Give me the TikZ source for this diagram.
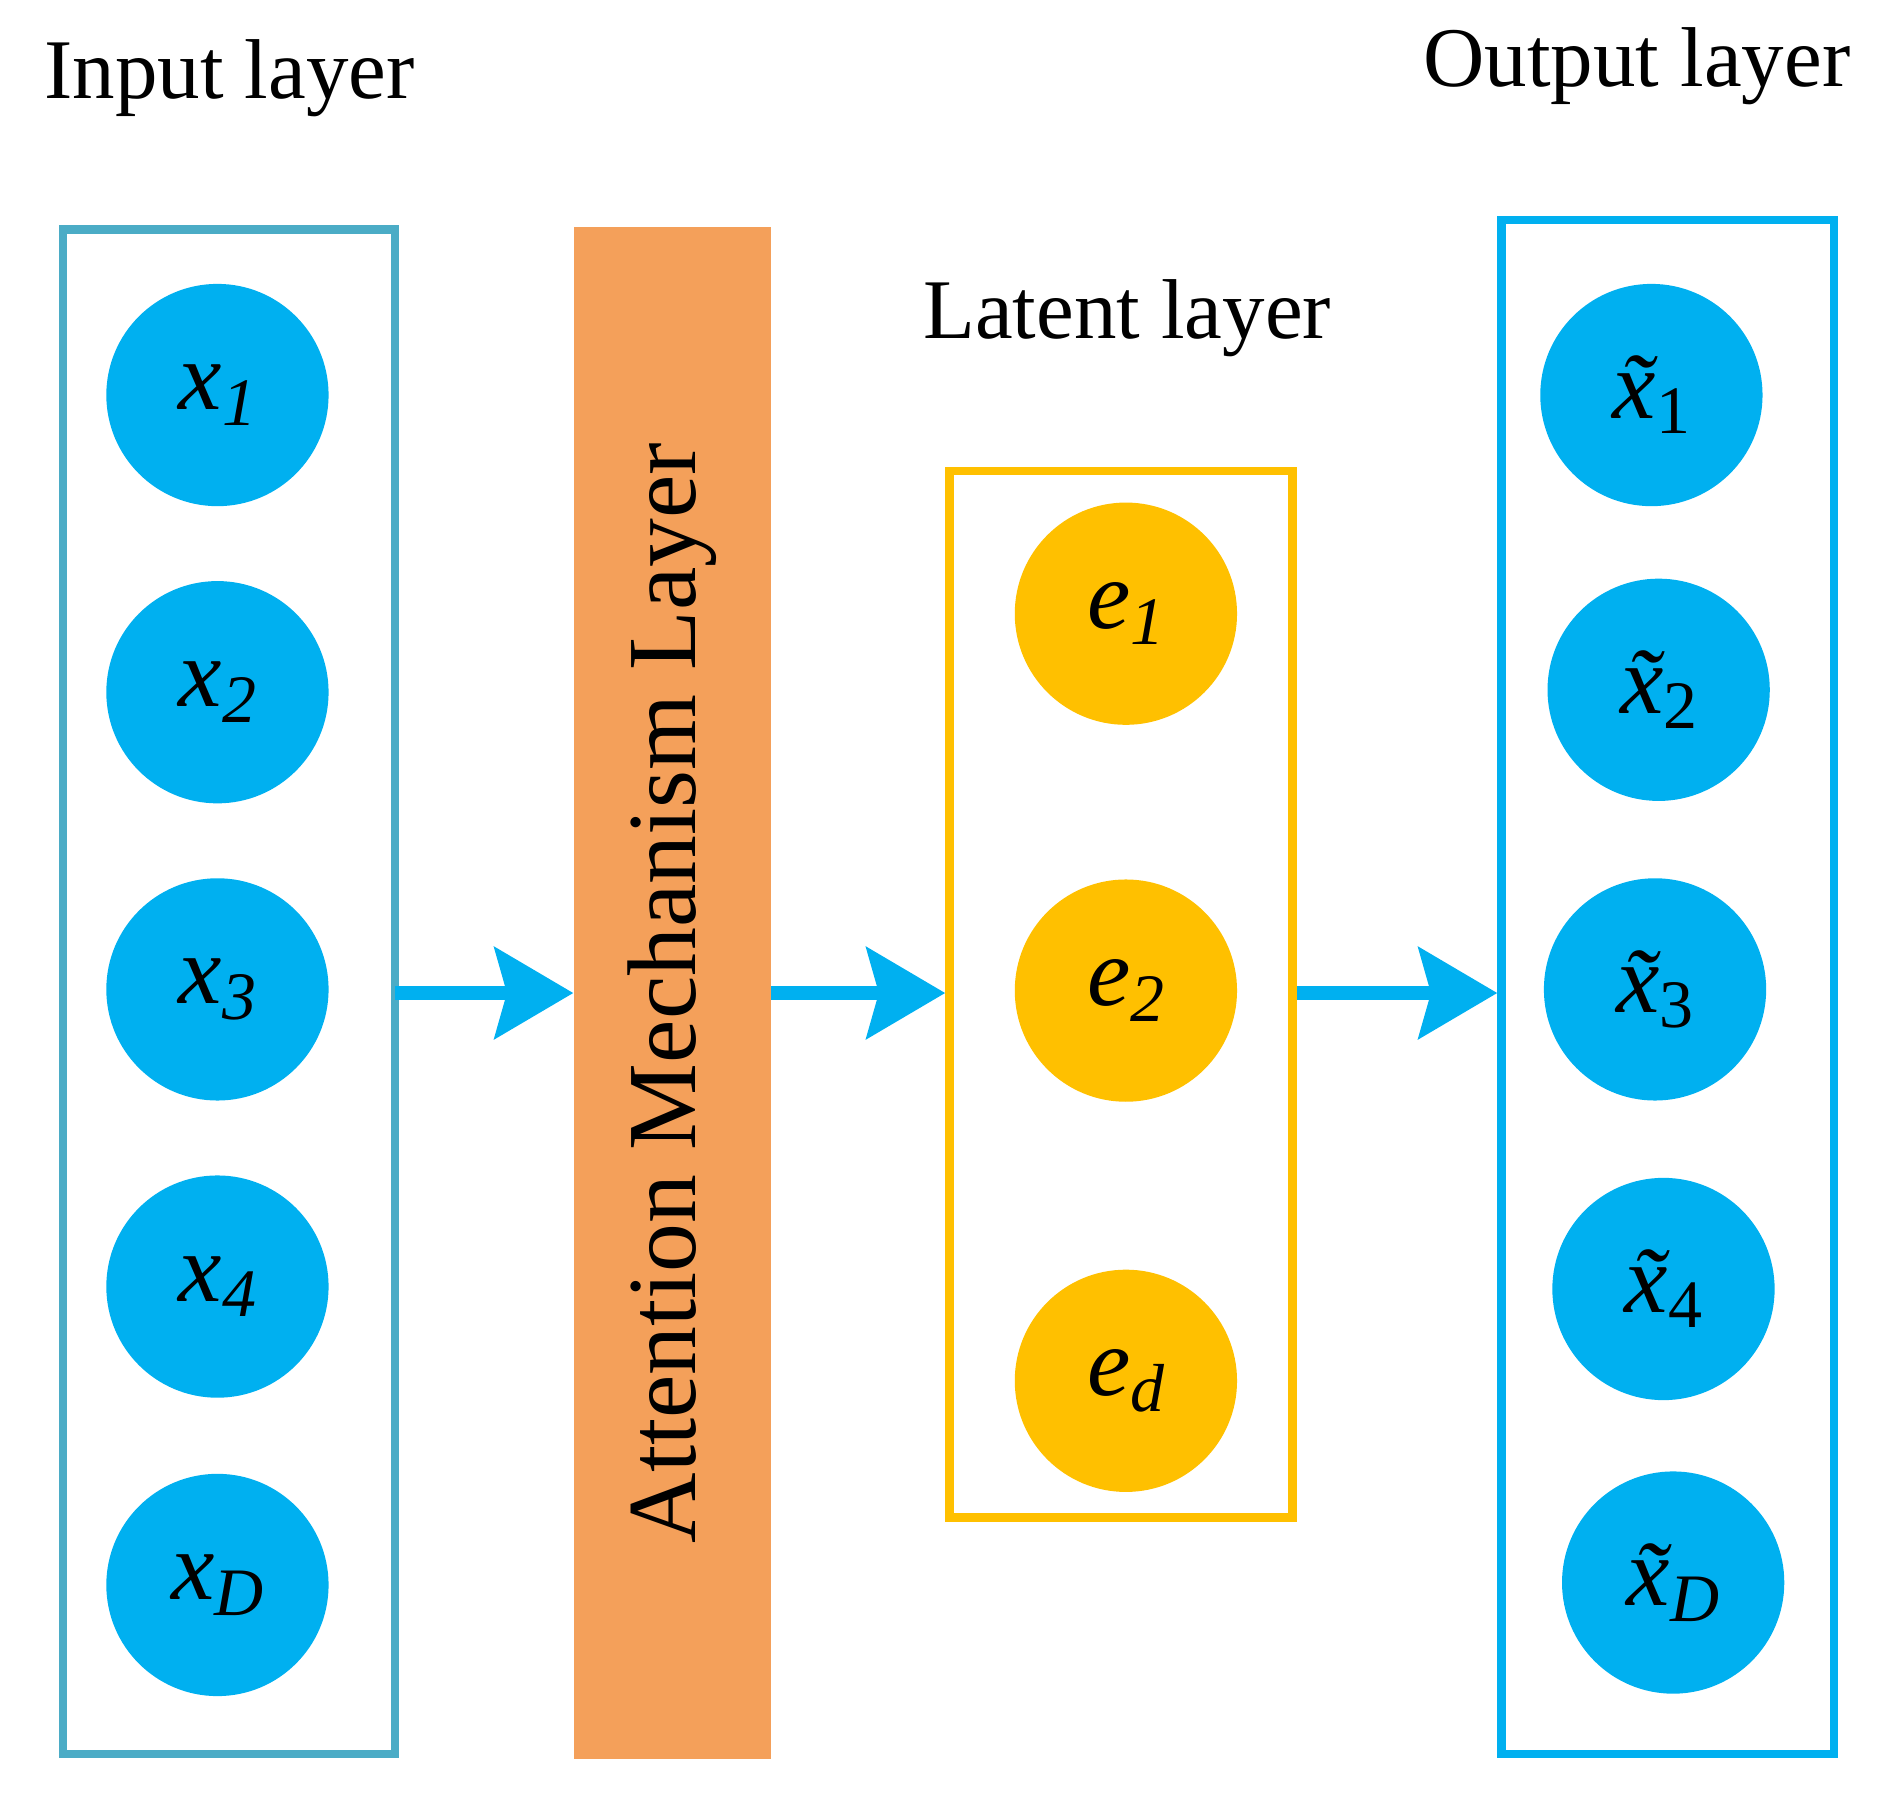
\documentclass[tikz,border=0pt]{standalone}
\usepackage{fontspec}
\setmainfont{Liberation Serif}
\usetikzlibrary{arrows.meta}
\definecolor{inbox}{HTML}{4BACC6}
\definecolor{cyanc}{HTML}{00B0F0}
\definecolor{orangec}{HTML}{F4A05A}
\definecolor{goldc}{HTML}{FFC000}
\newcommand{\sub}[1]{\raisebox{-0.35ex}{\fontsize{32}{32}\selectfont #1}}
\begin{document}
\begin{tikzpicture}[x=0.02cm,y=-0.02cm,
  box/.style={draw,line width=7*0.02cm},
  cir/.style={circle,fill=cyanc,minimum size=184*0.02cm,inner sep=0pt,font=\fontsize{46}{46}\selectfont\itshape},
  ecir/.style={cir,fill=goldc},
  lbl/.style={font=\fontsize{40}{46}\selectfont},
  arr/.style={cyanc,line width=12*0.02cm,-{Triangle[width=75*0.02cm,length=65*0.02cm,inset=10*0.02cm]}}]
\useasboundingbox (0,0) rectangle (1567,1487);
\node[lbl] (tin) at (190,65) {Input layer};
\node[lbl] (tout) at (1355,55) {Output layer};
\node[lbl] (tlat) at (933,263) {Latent layer};
\node[box,draw=inbox,minimum width=275*0.02cm,minimum height=1262*0.02cm] (inb) at (189.5,821) {};
\node[cir] (x1) at (180,327) {x\sub{1}};
\node[cir] (x2) at (180,573) {x\sub{2}};
\node[cir] (x3) at (180,819) {x\sub{3}};
\node[cir] (x4) at (180,1065) {x\sub{4}};
\node[cir] (xD) at (180,1312) {x\sub{D}};
\node[fill=orangec,minimum width=163*0.02cm,minimum height=1268*0.02cm,inner sep=0pt] (att) at (556.5,822) {};
\node[rotate=90,font=\fontsize{46}{50}\selectfont] (attt) at (556,822) {Attention Mechanism Layer};
\node[box,draw=goldc,minimum width=284*0.02cm,minimum height=866*0.02cm] (lat) at (928,823) {};
\node[ecir] (e1) at (932,508) {e\sub{1}};
\node[ecir] (e2) at (932,820) {e\sub{2}};
\node[ecir] (ed) at (932,1143) {e\sub{d}};
\node[box,draw=cyanc,minimum width=275*0.02cm,minimum height=1270*0.02cm] (outb) at (1380.5,817) {};
\node[cir] (o1) at (1367,327) {\~x\sub{\upshape 1}};
\node[cir] (o2) at (1373,571) {\~x\sub{\upshape 2}};
\node[cir] (o3) at (1370,819) {\~x\sub{\upshape 3}};
\node[cir] (o4) at (1377,1067) {\~x\sub{\upshape 4}};
\node[cir] (oD) at (1385,1310) {\~x\sub{D}};
\draw[arr] (327,822) -- (att.west |- 0,822);
\draw[arr] (att.east |- 0,822) -- (lat.west |- 0,822);
\draw[arr] (lat.east |- 0,822) -- (outb.west |- 0,822);
\end{tikzpicture}
\end{document}
